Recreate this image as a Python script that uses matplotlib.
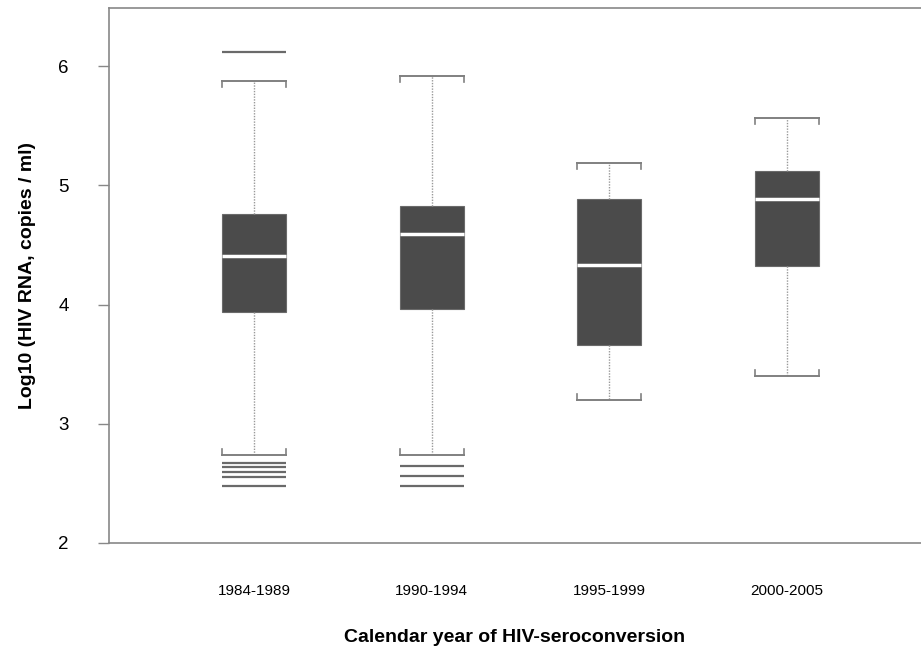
import matplotlib
matplotlib.use("Agg")
import matplotlib.pyplot as plt

plt.rcParams['font.family'] = ['Liberation Sans', 'DejaVu Sans']

categories = ["1984-1989", "1990-1994", "1995-1999", "2000-2005"]
whisk_lo = [2.74, 2.735, 3.20, 3.40]
q1 = [3.94, 3.96, 3.66, 4.32]
median = [4.41, 4.59, 4.33, 4.89]
q3 = [4.76, 4.83, 4.89, 5.12]
whisk_hi = [5.88, 5.92, 5.19, 5.57]
outliers = [
    [6.12, 2.672, 2.636, 2.594, 2.55, 2.474],
    [2.645, 2.558, 2.474],
    [],
    [],
]
yticks = [2, 3, 4, 5, 6]

fig = plt.figure(figsize=(9.21, 6.47), dpi=100)
ax = fig.add_axes([0.1183, 0.1612, 0.8817, 0.8264])

stats = []
for i, c in enumerate(categories):
    stats.append(dict(label=c, whislo=whisk_lo[i], q1=q1[i], med=median[i],
                      q3=q3[i], whishi=whisk_hi[i], fliers=outliers[i]))

positions = list(range(1, len(categories) + 1))
bw = 0.36
ax.bxp(stats, positions=positions, widths=bw, patch_artist=True,
       showfliers=True,
       boxprops=dict(facecolor='#4b4b4b', edgecolor='#6a6a6a', linewidth=0.8),
       medianprops=dict(color='white', linewidth=2.5),
       whiskerprops=dict(color='#999999', linestyle=(0, (1, 1)), linewidth=1.0),
       capprops=dict(color='#808080', linewidth=1.4),
       capwidths=bw,
       flierprops=dict(marker='_', markersize=46, markeredgewidth=1.6,
                       markeredgecolor='#6a6a6a', linestyle='none'))

# small bracket ticks at cap ends
d = 0.05
for i, p in enumerate(positions):
    for x in (p - bw / 2, p + bw / 2):
        ax.plot([x, x], [whisk_hi[i], whisk_hi[i] - d], color='#808080', lw=1.2)
        ax.plot([x, x], [whisk_lo[i], whisk_lo[i] + d], color='#808080', lw=1.2)

ax.set_xlim(0.184, 4.754)
ax.set_ylim(2, 6.49)
ax.set_yticks(yticks)
ax.set_yticklabels([str(t) for t in yticks], fontsize=13.5)
ax.set_xticks(positions)
ax.set_xticklabels(categories, fontsize=11)
ax.tick_params(axis='x', length=0, pad=30)
ax.tick_params(axis='y', length=8, width=1, color='#888888', pad=21)

for s in ['left', 'bottom', 'top']:
    ax.spines[s].set_color('#888888')
    ax.spines[s].set_linewidth(1.2)
ax.spines['right'].set_visible(False)

ax.set_ylabel("Log10 (HIV RNA, copies / ml)", fontsize=14, fontweight='bold', labelpad=16)
ax.set_xlabel("Calendar year of HIV-seroconversion", fontsize=14, fontweight='bold', labelpad=22)

fig.savefig("out.png", dpi=100)
